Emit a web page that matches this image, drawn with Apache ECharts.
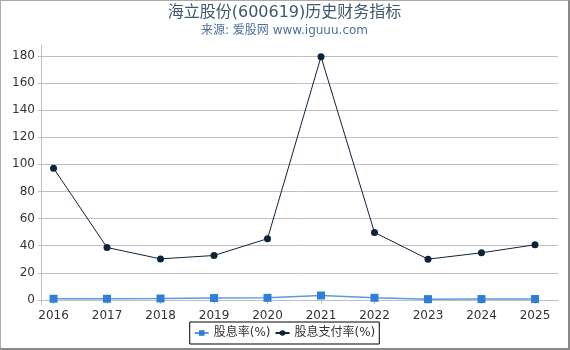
<!DOCTYPE html>
<html>
<head>
<meta charset="utf-8">
<script src="https://cdn.jsdelivr.net/npm/echarts@6/dist/echarts.min.js"></script>
<style>
  html, body { margin: 0; padding: 0; background: #fff; }
  #frame {
    width: 570px; height: 350px; box-sizing: border-box;
    border-left: 1px solid #aaa; border-top: 1px solid #aaa;
    border-right: 2px solid #888; border-bottom: 2px solid #888;
  }
  #chart { width: 567px; height: 347px; }
</style>
</head>
<body>
<div id="frame"><div id="chart"></div></div>
<script>
const years = [2016, 2017, 2018, 2019, 2020, 2021, 2022, 2023, 2024, 2025]
const dividendYield = [0.9, 0.9, 1.1, 1.4, 1.6, 3.3, 1.6, 0.6, 0.7, 0.7]
const payoutRatio = [97.2, 38.7, 30.3, 32.8, 45.2, 179.3, 49.8, 30.1, 34.8, 40.7]
const yTicks = [0, 20, 40, 60, 80, 100, 120, 140, 160, 180]

const font = 'DejaVu Sans, Noto Sans CJK SC, sans-serif'
const pair = (vals) => years.map((y, i) => [y, vals[i]])

const chart = echarts.init(document.getElementById('chart'))

const option = {
  animation: false,
  textStyle: { fontFamily: font },
  title: {
    text: '海立股份(600619)历史财务指标',
    subtext: '来源: 爱股网 www.iguuu.com',
    left: 'center',
    top: -1,
    itemGap: 4,
    textStyle: { fontFamily: font, fontSize: 16, fontWeight: 'normal', color: '#3e576f' },
    subtextStyle: { fontFamily: font, fontSize: 12, color: '#4d6f9f' },
  },
  legend: {
    top: 321,
    left: 'center',
    padding: [5, 4],
    itemGap: 4,
    itemWidth: 14,
    itemHeight: 7,
    borderColor: '#000',
    borderWidth: 1,
    borderRadius: 0,
    textStyle: { fontFamily: font, fontSize: 12, color: '#333' },
    data: ['股息率(%)', '股息支付率(%)'],
  },
  grid: { left: 40, right: 10, top: 44, bottom: 43 },
  xAxis: {
    type: 'value',
    min: 2015.766,
    max: 2025.43,
    axisLine: { show: true, lineStyle: { color: '#c0c0c0' } },
    axisTick: { show: true, length: 4, customValues: years, lineStyle: { color: '#c0c0c0' } },
    axisLabel: {
      customValues: years,
      fontSize: 12,
      color: '#333',
      margin: 5,
      formatter: (v) => String(v),
    },
    splitLine: { show: false },
  },
  yAxis: {
    type: 'value',
    min: -3.7,
    max: 188,
    axisLine: { show: true, lineStyle: { color: '#c0c0c0' } },
    axisTick: { show: true, length: 3, customValues: yTicks, lineStyle: { color: '#c0c0c0' } },
    axisLabel: { customValues: yTicks, fontSize: 12, color: '#333', margin: 6 },
    splitLine: { show: true, lineStyle: { color: '#c0c0c0' } },
  },
  series: [
    {
      name: '股息率(%)',
      type: 'line',
      data: pair(dividendYield),
      symbol: 'rect',
      symbolSize: 8,
      itemStyle: { color: '#2f7ed8' },
      lineStyle: { color: '#5b9ae2', width: 1.5 },
    },
    {
      name: '股息支付率(%)',
      type: 'line',
      data: pair(payoutRatio),
      symbol: 'circle',
      symbolSize: 7,
      itemStyle: { color: '#0d233a' },
      lineStyle: { color: '#0d233a', width: 1 },
    },
  ],
}

chart.setOption(option)
</script>
</body>
</html>
